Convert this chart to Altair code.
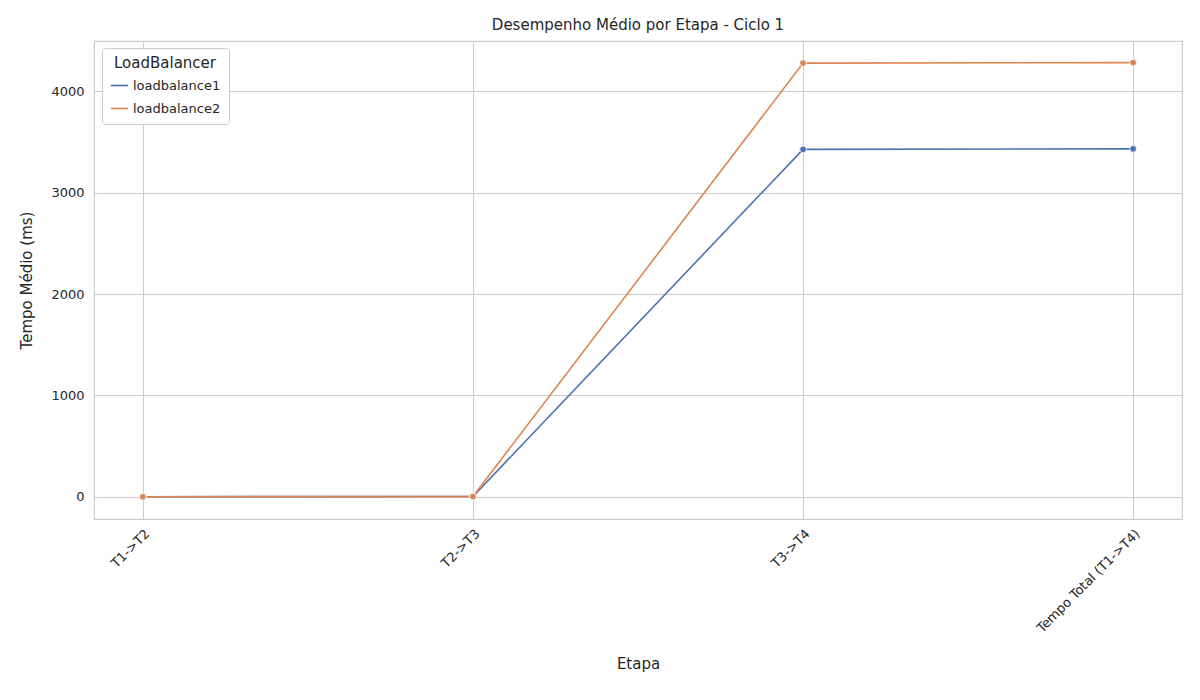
import altair as alt
import pandas as pd

etapas = ["T1->T2", "T2->T3", "T3->T4", "Tempo Total (T1->T4)"]
lb1 = [2, 5, 3425, 3430]
lb2 = [2, 5, 4275, 4280]

rows = []
for name, vals in [("loadbalance1", lb1), ("loadbalance2", lb2)]:
    for e, v in zip(etapas, vals):
        rows.append({"Etapa": e, "Tempo": v, "LoadBalancer": name})
df = pd.DataFrame(rows)

GRID = "#cccccc"
INK = "#262626"
FONT = "DejaVu Sans"

chart = alt.Chart(df).mark_line(
    point=alt.OverlayMarkDef(filled=True, size=45, stroke="white", strokeWidth=0.8),
    strokeWidth=1.6,
).encode(
    x=alt.X("Etapa:N", sort=etapas, scale=alt.Scale(type="point", padding=0.148),
            axis=alt.Axis(title="Etapa", labelAngle=-45, labelAlign="right",
                          labelBaseline="top", gridColor=GRID, grid=True,
                          ticks=False, domain=False, labelColor=INK,
                          labelFontSize=13, titleFontSize=15, titleFontWeight="normal",
                          titleColor=INK, labelPadding=8, titlePadding=22)),
    y=alt.Y("Tempo:Q", scale=alt.Scale(domain=[-217, 4493], nice=False, zero=False),
            axis=alt.Axis(title="Tempo Médio (ms)", values=[0, 1000, 2000, 3000, 4000],
                          format="d", gridColor=GRID, ticks=False, domain=False,
                          labelColor=INK, labelFontSize=13, titleFontSize=15,
                          titleColor=INK, titleFontWeight="normal", labelPadding=10,
                          titlePadding=16)),
    color=alt.Color("LoadBalancer:N",
                    scale=alt.Scale(domain=["loadbalance1", "loadbalance2"],
                                    range=["#4c72b0", "#dd8452"]),
                    legend=alt.Legend(orient="none", legendX=8, legendY=7,
                                      title="LoadBalancer", titleFontSize=15,
                                      titleFontWeight="normal", titleColor=INK,
                                      labelFontSize=13, labelColor=INK,
                                      symbolType="stroke", symbolSize=300,
                                      symbolStrokeWidth=1.6, rowPadding=6,
                                      strokeColor=GRID, fillColor="white", padding=8,
                                      cornerRadius=3, titleAnchor="middle")),
).properties(
    width=1088, height=478,
    title=alt.Title("Desempenho Médio por Etapa - Ciclo 1", fontSize=15,
                    fontWeight="normal", color=INK, offset=8),
    autosize=alt.AutoSizeParams(type="none"),
    padding={"left": 86, "top": 33, "right": 10, "bottom": 170},
).configure(font=FONT).configure_view(stroke=GRID, strokeWidth=1.2)

chart.save("out.html", embed_options={"renderer": "svg", "actions": False})
